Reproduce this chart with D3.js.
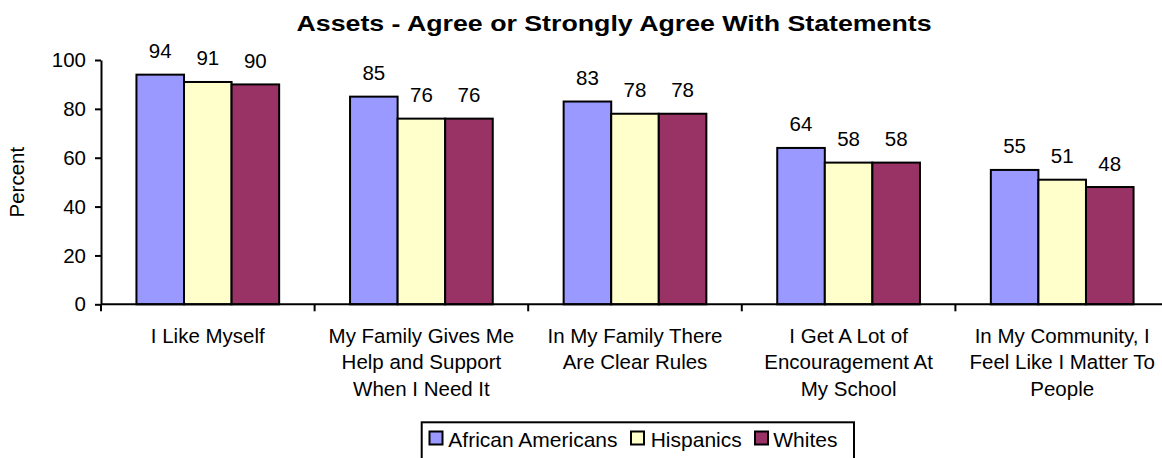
<!DOCTYPE html>
<html>
<head>
<meta charset="utf-8">
<script src="https://cdn.jsdelivr.net/npm/d3@7"></script>
<style>
  html, body { margin: 0; padding: 0; background: #fff; }
  svg { display: block; font-family: "Liberation Sans", Arial, sans-serif; }
</style>
</head>
<body>
<svg id="chart" width="1162" height="458"></svg>
<script>
const categories = [
  "I Like Myself",
  "My Family Gives Me Help and Support When I Need It",
  "In My Family There Are Clear Rules",
  "I Get A Lot of Encouragement At My School",
  "In My Community, I Feel Like I Matter To People"
];
const categoryLines = [
  ["I Like Myself"],
  ["My Family Gives Me", "Help and Support", "When I Need It"],
  ["In My Family There", "Are Clear Rules"],
  ["I Get A Lot of", "Encouragement At", "My School"],
  ["In My Community, I", "Feel Like I Matter To", "People"]
];
const seriesNames = ["African Americans", "Hispanics", "Whites"];
const africanAmericans = [94, 85, 83, 64, 55];
const hispanics = [91, 76, 78, 58, 51];
const whites = [90, 76, 78, 58, 48];
const yTicks = [0, 20, 40, 60, 80, 100];
const colors = ["#9999FF", "#FFFFCC", "#993366"];
const titleText = "Assets - Agree or Strongly Agree With Statements";
const yLabel = "Percent";

const seriesValues = [africanAmericans, hispanics, whites];
const FS = 20.5;

const svg = d3.select("#chart");
const plotLeft = 101, plotRight = 1169, plotTop = 60, plotBottom = 304.3;

const x0 = d3.scaleBand().domain(categories).range([plotLeft, plotRight]).paddingInner(0).paddingOuter(0);
const x1 = d3.scaleBand().domain(seriesNames).range([0, x0.bandwidth()]).paddingInner(0).paddingOuter(0.745);
const y = d3.scaleLinear().domain([0, 100]).range([plotBottom, plotTop]);

// Title
svg.append("text")
  .attr("x", 614).attr("y", 31)
  .attr("text-anchor", "middle")
  .attr("font-size", 22.5).attr("font-weight", "bold")
  .attr("textLength", 635).attr("lengthAdjust", "spacingAndGlyphs")
  .text(titleText);

// Bars
const groups = svg.append("g").selectAll("g")
  .data(categories)
  .join("g")
  .attr("transform", d => `translate(${x0(d)},0)`);

groups.selectAll("rect")
  .data((c, i) => seriesNames.map((s, j) => ({ s, j, v: seriesValues[j][i] })))
  .join("rect")
  .attr("x", d => x1(d.s))
  .attr("y", d => y(d.v))
  .attr("width", x1.bandwidth())
  .attr("height", d => y(0) - y(d.v))
  .attr("fill", d => colors[d.j])
  .attr("stroke", "#000")
  .attr("stroke-width", 2);

groups.selectAll("text.val")
  .data((c, i) => seriesNames.map((s, j) => ({ s, j, v: seriesValues[j][i] })))
  .join("text")
  .attr("class", "val")
  .attr("x", d => x1(d.s) + x1.bandwidth() / 2)
  .attr("y", d => y(d.v) - 16.5)
  .attr("text-anchor", "middle")
  .attr("font-size", FS)
  .text(d => d.v);

// Y axis
const yAxis = svg.append("g")
  .attr("transform", `translate(${plotLeft},0)`)
  .call(d3.axisLeft(y).tickValues(yTicks).tickSize(6).tickPadding(9).tickSizeOuter(0));
yAxis.select(".domain").attr("stroke", "#000").attr("stroke-width", 2);
yAxis.selectAll(".tick line").attr("stroke", "#000").attr("stroke-width", 2);
yAxis.selectAll(".tick text")
  .attr("font-size", FS).attr("font-family", "Liberation Sans, Arial, sans-serif").attr("fill", "#000");

// X axis line
svg.append("line")
  .attr("x1", plotLeft).attr("x2", 1162)
  .attr("y1", y(0)).attr("y2", y(0))
  .attr("stroke", "#000").attr("stroke-width", 2);

// X boundary ticks
const boundaries = categories.map(c => x0(c)).concat([x0(categories[categories.length - 1]) + x0.bandwidth()]);
svg.append("g").selectAll("line")
  .data(boundaries)
  .join("line")
  .attr("x1", d => d).attr("x2", d => d)
  .attr("y1", y(0)).attr("y2", y(0) + 7)
  .attr("stroke", "#000").attr("stroke-width", 2);

// Category labels
const labelG = svg.append("g").selectAll("text")
  .data(categories)
  .join("text")
  .attr("text-anchor", "middle")
  .attr("font-size", FS)
  .attr("x", d => x0(d) + x0.bandwidth() / 2)
  .attr("y", 342.5);
labelG.each(function(d, i) {
  const t = d3.select(this);
  categoryLines[i].forEach((line, k) => {
    t.append("tspan")
      .attr("x", x0(d) + x0.bandwidth() / 2)
      .attr("y", 342.5 + k * 26.5)
      .text(line);
  });
});

// Y label
svg.append("text")
  .attr("transform", `translate(24,${(plotTop + plotBottom) / 2}) rotate(-90)`)
  .attr("text-anchor", "middle")
  .attr("font-size", FS)
  .text(yLabel);

// Legend
svg.append("rect")
  .attr("x", 421.7).attr("y", 422.3)
  .attr("width", 432.3).attr("height", 60)
  .attr("fill", "#fff").attr("stroke", "#000").attr("stroke-width", 2);

const legendSwatchX = [429.5, 631, 755];
const legendTextX = [448.3, 650.7, 773.3];
const legendG = svg.append("g").selectAll("g")
  .data(seriesNames)
  .join("g");
legendG.append("rect")
  .attr("x", (d, i) => legendSwatchX[i])
  .attr("y", 431.5)
  .attr("width", 13).attr("height", 13)
  .attr("fill", (d, i) => colors[i])
  .attr("stroke", "#000").attr("stroke-width", 2);
legendG.append("text")
  .attr("x", (d, i) => legendTextX[i])
  .attr("y", 446.5)
  .attr("font-size", 21)
  .text(d => d);
</script>
</body>
</html>
